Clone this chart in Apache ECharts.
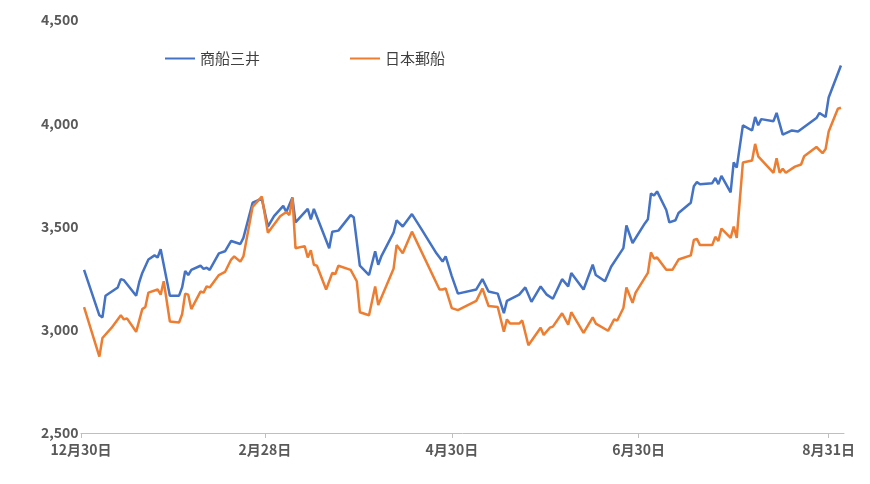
<!DOCTYPE html>
<html><head><meta charset="utf-8">
<script src="https://cdn.jsdelivr.net/npm/echarts@6/dist/echarts.min.js"></script>
<style>html,body{margin:0;padding:0;background:#fff}#c{width:870px;height:484px}</style>
</head><body><div id="c"></div>
<script>
const seriesNames = ['商船三井', '日本郵船'];
const baseDate = [2020, 11, 30];
const totalDays = 250;
const tickOffsets = [0, 60, 121, 182, 244];
const mitsuiDays = [1,6,7,8,12,13,14,18,19,20,22,24,25,26,29,32,33,34,35,36,39,40,41,42,45,47,49,52,53,56,59,61,63,66,67,69,70,74,75,76,81,82,84,88,89,91,94,96,97,98,102,103,105,108,111,116,118,119,121,123,129,131,133,136,138,139,143,145,147,150,152,154,157,159,160,164,167,168,171,173,177,178,180,184,185,186,187,188,191,192,194,195,199,200,201,202,206,207,208,209,212,213,214,216,219,220,221,222,226,227,229,232,234,240,241,243,244,248];
const mitsuiVals = [3290,3070,3060,3165,3205,3245,3240,3165,3230,3275,3340,3360,3350,3390,3165,3165,3205,3285,3265,3290,3310,3295,3300,3290,3370,3380,3430,3415,3445,3615,3635,3500,3550,3600,3570,3640,3520,3585,3535,3585,3395,3475,3480,3555,3545,3310,3265,3380,3315,3355,3470,3530,3500,3560,3490,3370,3330,3355,3260,3175,3195,3245,3185,3175,3080,3140,3170,3205,3135,3210,3170,3150,3245,3210,3275,3195,3315,3265,3235,3305,3395,3505,3420,3515,3535,3660,3650,3670,3580,3520,3530,3565,3615,3695,3715,3705,3710,3735,3705,3745,3665,3810,3785,3990,3965,4030,3990,4020,4010,4050,3945,3965,3960,4025,4050,4030,4125,4280];
const yusenDays = [1,6,7,10,13,14,15,18,20,21,22,25,26,27,29,32,33,34,35,36,39,40,41,42,45,47,49,50,52,53,56,59,61,65,67,68,69,70,73,74,75,76,77,80,82,83,84,88,90,91,94,96,97,102,103,105,108,117,118,119,121,123,129,131,133,136,138,139,140,143,144,146,150,151,153,154,157,159,160,164,167,168,172,174,175,177,178,180,181,185,186,187,188,191,193,195,199,200,201,202,206,207,208,209,212,213,214,216,219,220,221,226,227,228,229,230,233,235,236,240,242,243,244,247,248];
const yusenVals = [3110,2870,2960,3010,3070,3050,3055,2990,3100,3110,3180,3195,3170,3235,3040,3035,3075,3175,3170,3100,3185,3180,3210,3205,3265,3280,3340,3355,3330,3355,3595,3645,3470,3550,3570,3555,3640,3395,3405,3350,3385,3315,3310,3195,3275,3270,3310,3290,3235,3085,3070,3210,3120,3295,3410,3370,3475,3195,3195,3200,3105,3095,3140,3200,3115,3110,2990,3050,3030,3030,3045,2925,3010,2975,3010,3015,3080,3025,3085,2985,3060,3030,2995,3050,3045,3105,3205,3130,3180,3275,3375,3345,3350,3290,3290,3340,3360,3435,3440,3410,3410,3450,3430,3490,3445,3500,3445,3810,3820,3900,3840,3760,3830,3760,3780,3760,3790,3800,3840,3885,3855,3875,3960,4070,4075];

const categories = [];
for (let i = 0; i < totalDays; i++) {
  const d = new Date(baseDate[0], baseDate[1], baseDate[2] + i);
  categories.push((d.getMonth() + 1) + '月' + d.getDate() + '日');
}
const fill = (days, vals) => { const a = new Array(totalDays).fill(null); days.forEach((d, i) => a[d] = vals[i]); return a; };
const showAt = idx => tickOffsets.indexOf(idx) >= 0;
const chart = echarts.init(document.getElementById('c'));
const font = '"Noto Sans CJK JP", "Noto Sans", sans-serif';
chart.setOption({
  animation: false,
  textStyle: {fontFamily: font},
  grid: {left: 81, right: 26, top: 20, bottom: 51},
  legend: {top: 46, left: 160, itemGap: 90, itemWidth: 30, itemHeight: 2,
    icon: 'rect', textStyle: {fontSize: 15, color: '#404040', fontFamily: font},
    data: seriesNames},
  xAxis: {type: 'category', data: categories, boundaryGap: false,
    axisLine: {lineStyle: {color: '#bfbfbf'}},
    axisTick: {show: true, interval: showAt, length: 5, lineStyle: {color: '#bfbfbf'}},
    splitLine: {show: false},
    axisLabel: {interval: showAt, color: '#595959', fontSize: 14, fontWeight: 'bold', margin: 10}},
  yAxis: {type: 'value', min: 2500, max: 4500, interval: 500,
    splitLine: {show: false}, axisLine: {show: false},
    axisLabel: {color: '#595959', fontSize: 14, fontWeight: 'bold', margin: 40, align: 'left'}},
  series: [
    {name: seriesNames[0], type: 'line', showSymbol: false, connectNulls: true, data: fill(mitsuiDays, mitsuiVals),
      itemStyle: {color: '#4472C4'}, lineStyle: {color: '#4472C4', width: 2.5}},
    {name: seriesNames[1], type: 'line', showSymbol: false, connectNulls: true, data: fill(yusenDays, yusenVals),
      itemStyle: {color: '#ED7D31'}, lineStyle: {color: '#ED7D31', width: 2.5}}
  ]
});
</script></body></html>
